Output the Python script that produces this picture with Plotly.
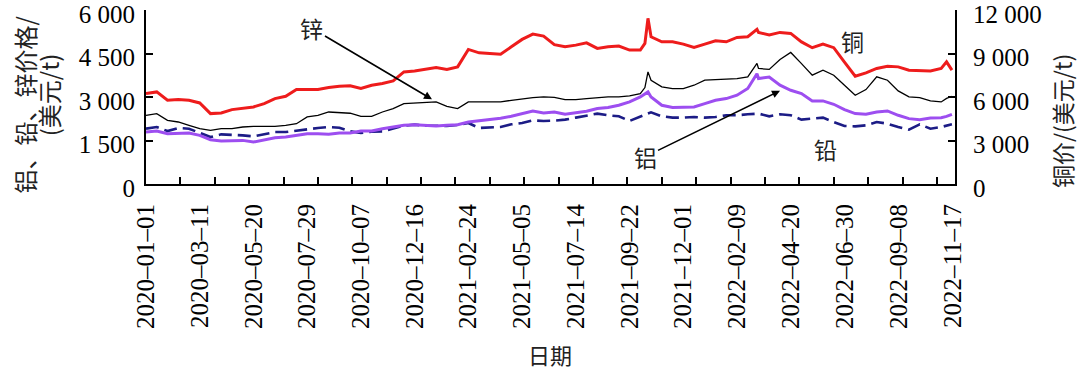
import plotly.graph_objects as go
from datetime import datetime, timedelta

# ---- data (USD/t) ----
dates = [
    "2020-01-01", "2020-01-15", "2020-01-29", "2020-02-12", "2020-02-26", "2020-03-11",
    "2020-03-25", "2020-04-08", "2020-04-22", "2020-05-06", "2020-05-20", "2020-06-03",
    "2020-06-17", "2020-07-01", "2020-07-15", "2020-07-29", "2020-08-12", "2020-08-26",
    "2020-09-09", "2020-09-23", "2020-10-07", "2020-10-21", "2020-11-04", "2020-11-18",
    "2020-12-02", "2020-12-16", "2020-12-30", "2021-01-13", "2021-01-27", "2021-02-10",
    "2021-02-24", "2021-03-10", "2021-03-24", "2021-04-07", "2021-04-21", "2021-05-05",
    "2021-05-19", "2021-06-02", "2021-06-16", "2021-06-30", "2021-07-14", "2021-07-28",
    "2021-08-11", "2021-08-25", "2021-09-08", "2021-09-22", "2021-10-06", "2021-10-12",
    "2021-10-16", "2021-10-20", "2021-11-03", "2021-11-17", "2021-12-01", "2021-12-15",
    "2021-12-29", "2022-01-12", "2022-01-26", "2022-02-09", "2022-02-23", "2022-03-07",
    "2022-03-09", "2022-03-23", "2022-04-06", "2022-04-20", "2022-05-04", "2022-05-18",
    "2022-06-01", "2022-06-15", "2022-06-29", "2022-07-13", "2022-07-27", "2022-08-10",
    "2022-08-24", "2022-09-07", "2022-09-21", "2022-10-05", "2022-10-19", "2022-11-02",
    "2022-11-09", "2022-11-16",
]

copper = [
    6238, 6350, 5775, 5823, 5775, 5588,
    4855, 4900, 5130, 5200, 5313, 5546,
    5890, 6050, 6515, 6515, 6515, 6650,
    6743, 6780, 6583, 6812, 6928, 7112,
    7732, 7801, 7896, 8035, 7896, 8078,
    9280, 9047, 9004, 8956, 9461, 9972,
    10340, 10200, 9610, 9461, 9578, 9738,
    9350, 9461, 9509, 9233, 9233, 9694,
    11425, 10155, 9808, 9808, 9648, 9416,
    9648, 9878, 9808, 10109, 10155, 10663,
    10450, 10270, 10455, 10385, 9800, 9400,
    9650, 9400, 8400, 7435, 7663, 7967,
    8126, 8078, 7850, 7801, 7801, 7967,
    8424, 7850,
]

zinc = [
    2369, 2427, 2196, 2138, 2023, 1908,
    1850, 1908, 1908, 1965, 1988, 1988,
    1988, 2023, 2080, 2311, 2369, 2483,
    2450, 2440, 2334, 2334, 2483, 2600,
    2773, 2796, 2830, 2830, 2680, 2600,
    2830, 2830, 2830, 2830, 2887, 2946,
    2980, 3003, 2990, 2911, 2911, 2946,
    2980, 3003, 3003, 3038, 3119, 3326,
    3866, 3579, 3349, 3292, 3292, 3406,
    3579, 3602, 3625, 3637, 3694, 4156,
    3984, 3950, 4294, 4536, 4150, 3752,
    3925, 3752, 3406, 3061, 3257, 3694,
    3579, 3211, 3003, 2980, 2865, 2830,
    2950, 3026,
]

aluminium = [
    1791, 1826, 1735, 1757, 1757, 1677,
    1528, 1480, 1480, 1504, 1446, 1528,
    1598, 1618, 1677, 1735, 1735, 1712,
    1757, 1757, 1826, 1826, 1908, 1965,
    2023, 2046, 2023, 2000, 2023, 2046,
    2138, 2173, 2219, 2265, 2334, 2427,
    2518, 2450, 2483, 2403, 2450, 2507,
    2600, 2635, 2715, 2830, 3003, 3119,
    3176, 3003, 2715, 2635, 2657, 2657,
    2773, 2887, 2946, 3061, 3292, 3800,
    3637, 3690, 3406, 3233, 3119, 2865,
    2865, 2749, 2565, 2427, 2403, 2483,
    2518, 2369, 2254, 2219, 2277, 2288,
    2330, 2403,
]

lead = [
    1908, 1965, 1826, 1931, 1908, 1757,
    1618, 1712, 1700, 1677, 1643, 1712,
    1791, 1791, 1850, 1885, 1931, 1965,
    1942, 1815, 1757, 1803, 1815, 1908,
    2011, 2046, 2011, 2011, 2000, 2034,
    2104, 1931, 1942, 1965, 2058, 2104,
    2196, 2173, 2185, 2219, 2288, 2369,
    2427, 2369, 2334, 2173, 2334, 2400,
    2450, 2473, 2334, 2288, 2288, 2311,
    2288, 2311, 2369, 2369, 2403, 2420,
    2427, 2334, 2403, 2369, 2219, 2254,
    2288, 2138, 2000, 1988, 2023, 2138,
    2080, 1965, 1873, 2058, 1908, 1965,
    2000, 2058,
]

x_label_dates = [
    "2020-01-01", "2020-03-11", "2020-05-20", "2020-07-29", "2020-10-07", "2020-12-16",
    "2021-02-24", "2021-05-05", "2021-07-14", "2021-09-22", "2021-12-01", "2022-02-09",
    "2022-04-20", "2022-06-30", "2022-09-08", "2022-11-17",
]
x_label_text = [d.replace("-", "–") for d in x_label_dates]

left_tickvals = [0, 1500, 3000, 4500, 6000]
left_ticktext = ["0", "1 500", "3 000", "4 500", "6 000"]
right_tickvals = [0, 3000, 6000, 9000, 12000]
right_ticktext = ["0", "3 000", "6 000", "9 000", "12 000"]

# ---- styling ----
SERIF = "Liberation Serif, Noto Sans CJK SC"
CJK = "Noto Sans CJK SC"
start = datetime(2020, 1, 1)
x_range = ["2020-01-01", "2022-11-20"]
tick_marks = [(start + timedelta(days=44.8 * k)).strftime("%Y-%m-%d %H:%M") for k in range(1, 24)]

fig = go.Figure()
fig.add_trace(go.Scatter(x=dates, y=lead, mode="lines", name="铅",
                         line=dict(color="#1c1c86", width=2.6, dash="13px,6px")))
fig.add_trace(go.Scatter(x=dates, y=aluminium, mode="lines", name="铝",
                         line=dict(color="#9d4ef0", width=3)))
fig.add_trace(go.Scatter(x=dates, y=zinc, mode="lines", name="锌",
                         line=dict(color="#000000", width=1.3)))
fig.add_trace(go.Scatter(x=dates, y=copper, mode="lines", name="铜", yaxis="y2",
                         line=dict(color="#ee1c1c", width=3)))
# carrier for the tick-mark axis
fig.add_trace(go.Scatter(x=[dates[0]], y=[None], xaxis="x2", mode="lines",
                         showlegend=False, hoverinfo="skip"))

axis_common = dict(showline=True, linecolor="black", linewidth=2, showgrid=False,
                   zeroline=False, automargin=False)
TICKFONT = dict(family=SERIF, size=25, color="black")

fig.update_layout(
    width=1080, height=370,
    margin=dict(l=146, r=125, t=10, b=186),
    paper_bgcolor="white", plot_bgcolor="white",
    showlegend=False,
    font=dict(family=SERIF, size=23, color="black"),
    xaxis=dict(type="date", range=x_range, tickmode="array",
               tickvals=x_label_dates, ticktext=x_label_text, tickangle=-90,
               ticks="", ticklabelstandoff=8, ticklabeloverflow="allow",
               tickfont=TICKFONT, **axis_common),
    xaxis2=dict(type="date", range=x_range, overlaying="x", anchor="y", side="bottom",
                tickmode="array", tickvals=tick_marks, ticks="inside", ticklen=7,
                tickwidth=1.6, tickcolor="black", showticklabels=False,
                showline=False, showgrid=False, zeroline=False, automargin=False),
    yaxis=dict(range=[0, 6000], tickmode="array", tickvals=left_tickvals,
               ticktext=left_ticktext, ticks="inside", ticklen=7, tickwidth=1.6,
               tickcolor="black", ticklabelstandoff=4, ticklabelshift=4,
               ticklabeloverflow="allow", tickfont=TICKFONT, **axis_common),
    yaxis2=dict(range=[0, 12000], overlaying="y", side="right", anchor="x",
                tickmode="array", tickvals=right_tickvals, ticktext=right_ticktext,
                ticks="inside", ticklen=7, tickwidth=1.6, tickcolor="black",
                ticklabelstandoff=11, ticklabelshift=4, ticklabeloverflow="allow",
                tickfont=TICKFONT, **axis_common),
)

C = dict(xanchor="center", yanchor="middle", xref="paper", yref="paper")
annotations = [
    # axis titles
    dict(text="铝、铅、锌价格/", x=-0.149, y=0.46, textangle=-90, showarrow=False,
         font=dict(family=CJK, size=24, color="#222"), **C),
    dict(text="(美元/t)", x=-0.121, y=0.51, textangle=-90, showarrow=False,
         font=dict(family=CJK, size=24, color="#222"), **C),
    dict(text="铜价/(美元/t)", x=1.133, y=0.36, textangle=-90, showarrow=False,
         font=dict(family=CJK, size=23, color="#222"), **C),
    dict(text="日期", x=0.4994, y=-0.975, showarrow=False,
         font=dict(family=CJK, size=22, color="#222"), **C),
    # series labels
    dict(text="锌", x=0.3535, y=0.487, showarrow=True,
         ax=-120, ay=-71, arrowhead=2, arrowsize=1, arrowwidth=1.6, arrowcolor="black",
         font=dict(family=CJK, size=23, color="#222"), **C),
    dict(text="铝", x=0.7837, y=0.536, showarrow=True,
         ax=-135, ay=66, arrowhead=2, arrowsize=1, arrowwidth=1.6, arrowcolor="black",
         font=dict(family=CJK, size=23, color="#222"), **C),
    dict(text="铜", x=0.8727, y=0.821, showarrow=False,
         font=dict(family=CJK, size=23, color="#222"), **C),
    dict(text="铅", x=0.8405, y=0.199, showarrow=False,
         font=dict(family=CJK, size=23, color="#222"), **C),
]
fig.update_layout(annotations=annotations)

fig.write_html("out.html", config={"displayModeBar": False},
               post_script="document.body.style.margin='0px';")
